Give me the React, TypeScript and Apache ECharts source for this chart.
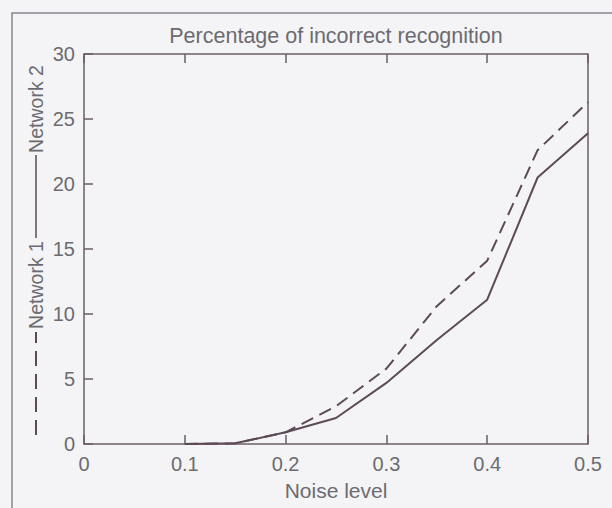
import React, { useEffect, useRef } from "react";
import * as echarts from "echarts";

const noiseLevels = [0.1, 0.15, 0.2, 0.25, 0.3, 0.35, 0.4, 0.45, 0.5];
const network1 = [0, 0.05, 0.9, 2.9, 5.8, 10.6, 14.1, 22.6, 26.3];
const network2 = [0, 0.05, 0.9, 2.0, 4.7, 8.0, 11.1, 20.5, 23.9];
const seriesNames = ["Network 1", "Network 2"];
const chartTitle = "Percentage of incorrect recognition";
const xAxisName = "Noise level";

const TEXT = "#6c6b70";
const AXIS = "#6a5d68";
const LINE = "#5c4a57";
const FRAME = "#8b8390";
const FONT = "'Liberation Sans', Arial, Helvetica, sans-serif";

export default function App() {
  const ref = useRef<HTMLDivElement>(null);
  useEffect(() => {
    document.body.style.margin = "0";
    const chart = echarts.init(ref.current!, null, { renderer: "svg" });
    const tick = { inside: true, length: 9, lineStyle: { color: AXIS, width: 1.5 } };
    chart.setOption({
      animation: false,
      backgroundColor: "#f4f4f6",
      textStyle: { fontFamily: FONT },
      grid: {
        left: 84,
        right: 24,
        top: 54,
        bottom: 64,
        show: true,
        borderColor: AXIS,
        borderWidth: 1.5,
        backgroundColor: "transparent",
        outerBoundsMode: "none",
      },
      xAxis: [
        {
          type: "value",
          position: "bottom",
          min: 0,
          max: 0.5,
          interval: 0.1,
          axisLine: { show: false },
          axisTick: tick,
          axisLabel: {
            color: TEXT,
            fontSize: 20,
            fontFamily: FONT,
            margin: 10,
            formatter: (v: number) => String(+v.toFixed(1)),
          },
          splitLine: { show: false },
          name: xAxisName,
          nameLocation: "middle",
          nameGap: 36,
          nameTextStyle: { color: TEXT, fontSize: 21, fontFamily: FONT },
        },
        {
          type: "value",
          position: "top",
          min: 0,
          max: 0.5,
          interval: 0.1,
          axisLine: { show: false },
          axisTick: tick,
          axisLabel: { show: false },
          splitLine: { show: false },
          name: chartTitle,
          nameLocation: "middle",
          nameGap: 7,
          nameTextStyle: { color: TEXT, fontSize: 21.5, fontFamily: FONT },
        },
      ],
      yAxis: {
        type: "value",
        min: 0,
        max: 30,
        interval: 5,
        axisLine: { show: false },
        axisTick: tick,
        axisLabel: { color: TEXT, fontSize: 20, fontFamily: FONT, margin: 9 },
        splitLine: { show: false },
      },
      series: [
        {
          name: seriesNames[0],
          type: "line",
          xAxisIndex: 0,
          symbol: "none",
          data: noiseLevels.map((x, i) => [x, network1[i]]),
          lineStyle: { color: LINE, width: 2, type: [13, 7] },
        },
        {
          name: seriesNames[1],
          type: "line",
          xAxisIndex: 0,
          symbol: "none",
          data: noiseLevels.map((x, i) => [x, network2[i]]),
          lineStyle: { color: LINE, width: 2, type: "solid" },
        },
      ],
      graphic: [
        {
          type: "rect",
          silent: true,
          shape: { x: 12, y: 13, width: 700, height: 600 },
          style: { fill: "none", stroke: FRAME, lineWidth: 1.5 },
        },
        {
          type: "line",
          silent: true,
          shape: { x1: 36, y1: 435, x2: 36, y2: 332 },
          style: { stroke: LINE, lineWidth: 2, lineDash: [15, 8] },
        },
        {
          type: "text",
          silent: true,
          x: 36,
          y: 285,
          rotation: Math.PI / 2,
          style: {
            text: seriesNames[0],
            fill: TEXT,
            fontSize: 19.5,
            fontFamily: FONT,
            align: "center",
            verticalAlign: "middle",
          },
        },
        {
          type: "line",
          silent: true,
          shape: { x1: 36, y1: 238, x2: 36, y2: 155 },
          style: { stroke: LINE, lineWidth: 1.5 },
        },
        {
          type: "text",
          silent: true,
          x: 36,
          y: 109,
          rotation: Math.PI / 2,
          style: {
            text: seriesNames[1],
            fill: TEXT,
            fontSize: 19.5,
            fontFamily: FONT,
            align: "center",
            verticalAlign: "middle",
          },
        },
      ],
    });
    return () => chart.dispose();
  }, []);
  return (
    <div
      ref={ref}
      style={{ position: "fixed", left: 0, top: 0, width: 612, height: 508 }}
    />
  );
}
